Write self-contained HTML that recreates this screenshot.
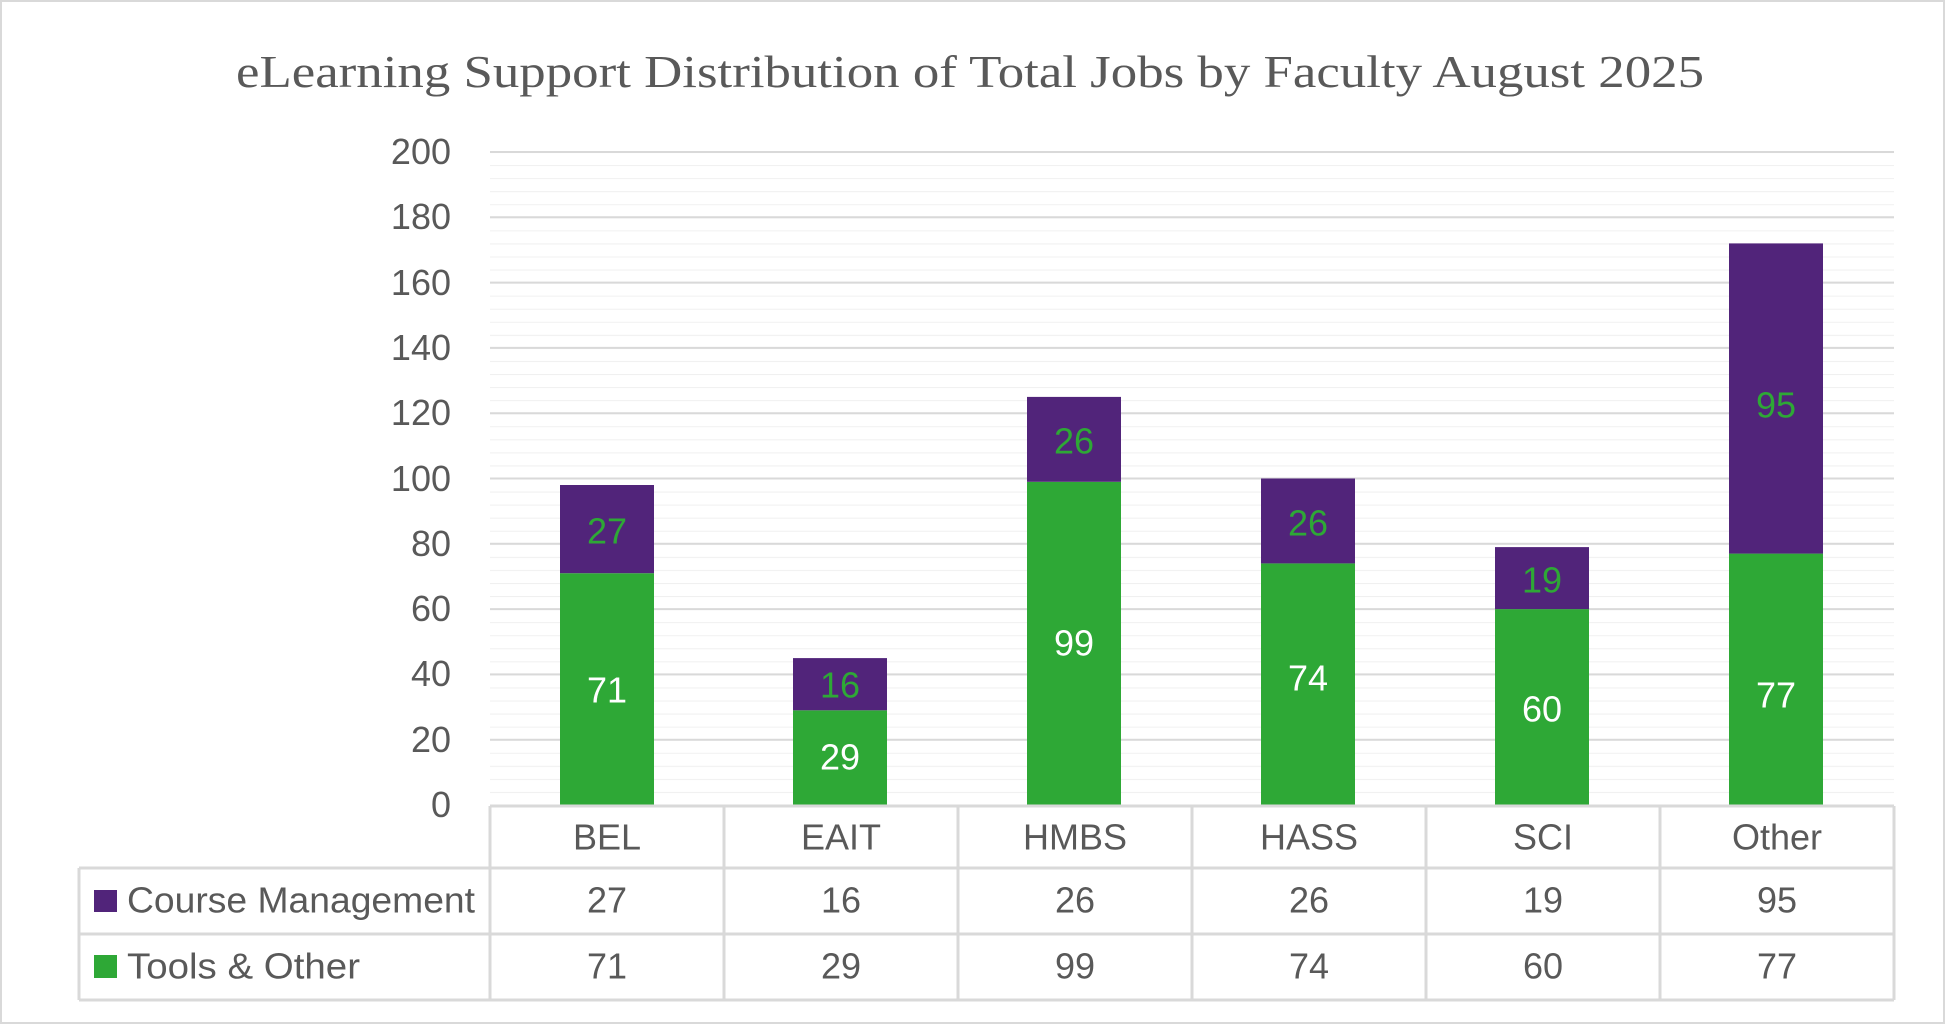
<!DOCTYPE html>
<html><head><meta charset="utf-8"><style>
html,body{margin:0;padding:0;background:#fff;}
svg{display:block;}
text{font-family:"Liberation Sans",sans-serif;}
</style></head><body>
<svg width="1946" height="1025" viewBox="0 0 1946 1025" xmlns="http://www.w3.org/2000/svg">
<defs>
<pattern id="minor" patternUnits="userSpaceOnUse" x="0" y="152" width="20" height="13.06">
<rect x="0" y="-1" width="20" height="2" fill="#f0f0f0"/>
</pattern>
</defs>
<rect x="1" y="1" width="1943" height="1022" fill="#fff" stroke="#d9d9d9" stroke-width="2"/>
<text x="236" y="87" style="font-family:'Liberation Serif',serif" font-size="46" fill="#595959" textLength="1468" lengthAdjust="spacingAndGlyphs">eLearning Support Distribution of Total Jobs by Faculty August 2025</text>
<!-- gridlines -->
<rect x="490" y="150" width="1404" height="656" fill="url(#minor)"/>
<g stroke="#d9d9d9" stroke-width="2">
<line x1="490" x2="1894" y1="152" y2="152"/>
<line x1="490" x2="1894" y1="217.3" y2="217.3"/>
<line x1="490" x2="1894" y1="282.6" y2="282.6"/>
<line x1="490" x2="1894" y1="347.9" y2="347.9"/>
<line x1="490" x2="1894" y1="413.2" y2="413.2"/>
<line x1="490" x2="1894" y1="478.5" y2="478.5"/>
<line x1="490" x2="1894" y1="543.8" y2="543.8"/>
<line x1="490" x2="1894" y1="609.1" y2="609.1"/>
<line x1="490" x2="1894" y1="674.4" y2="674.4"/>
<line x1="490" x2="1894" y1="739.7" y2="739.7"/>
</g>
<g font-size="36" fill="#595959" text-anchor="end">
<text x="451" y="164">200</text>
<text x="451" y="229">180</text>
<text x="451" y="295">160</text>
<text x="451" y="360">140</text>
<text x="451" y="425">120</text>
<text x="451" y="491">100</text>
<text x="451" y="556">80</text>
<text x="451" y="621">60</text>
<text x="451" y="686">40</text>
<text x="451" y="752">20</text>
<text x="451" y="817">0</text>
</g>
<!-- bars -->
<g fill="#2ea836">
<rect x="560" y="573.2" width="94" height="231.8"/>
<rect x="793" y="710.3" width="94" height="94.7"/>
<rect x="1027" y="481.8" width="94" height="323.2"/>
<rect x="1261" y="563.4" width="94" height="241.6"/>
<rect x="1495" y="609.1" width="94" height="195.9"/>
<rect x="1729" y="553.6" width="94" height="251.4"/>
</g>
<g fill="#51247a">
<rect x="560" y="485.0" width="94" height="88.2"/>
<rect x="793" y="658.1" width="94" height="52.2"/>
<rect x="1027" y="396.9" width="94" height="84.9"/>
<rect x="1261" y="478.5" width="94" height="84.9"/>
<rect x="1495" y="547.1" width="94" height="62.0"/>
<rect x="1729" y="243.4" width="94" height="310.2"/>
</g>
<g font-size="36" text-anchor="middle" dominant-baseline="central" fill="#fff">
<text x="607" y="690">71</text>
<text x="840" y="757">29</text>
<text x="1074" y="643">99</text>
<text x="1308" y="678">74</text>
<text x="1542" y="709">60</text>
<text x="1776" y="695">77</text>
</g>
<g font-size="36" text-anchor="middle" dominant-baseline="central" fill="#2ea836">
<text x="607" y="531">27</text>
<text x="840" y="685">16</text>
<text x="1074" y="441">26</text>
<text x="1308" y="523">26</text>
<text x="1542" y="580">19</text>
<text x="1776" y="405">95</text>
</g>
<!-- table -->
<g stroke="#d9d9d9" stroke-width="3" fill="none">
<line x1="490" x2="1894" y1="806" y2="806"/>
<line x1="79" x2="1894" y1="868" y2="868"/>
<line x1="79" x2="1894" y1="934" y2="934"/>
<line x1="79" x2="1894" y1="1000" y2="1000"/>
<line x1="79" x2="79" y1="868" y2="1000"/>
<line x1="490" x2="490" y1="806" y2="1000"/>
<line x1="724" x2="724" y1="806" y2="1000"/>
<line x1="958" x2="958" y1="806" y2="1000"/>
<line x1="1192" x2="1192" y1="806" y2="1000"/>
<line x1="1426" x2="1426" y1="806" y2="1000"/>
<line x1="1660" x2="1660" y1="806" y2="1000"/>
<line x1="1894" x2="1894" y1="806" y2="1000"/>
</g>
<g font-size="36" fill="#595959" text-anchor="middle" dominant-baseline="central">
<text x="607" y="837">BEL</text>
<text x="841" y="837">EAIT</text>
<text x="1075" y="837">HMBS</text>
<text x="1309" y="837">HASS</text>
<text x="1543" y="837">SCI</text>
<text x="1777" y="837">Other</text>
<text x="607" y="900">27</text>
<text x="841" y="900">16</text>
<text x="1075" y="900">26</text>
<text x="1309" y="900">26</text>
<text x="1543" y="900">19</text>
<text x="1777" y="900">95</text>
<text x="607" y="966">71</text>
<text x="841" y="966">29</text>
<text x="1075" y="966">99</text>
<text x="1309" y="966">74</text>
<text x="1543" y="966">60</text>
<text x="1777" y="966">77</text>
</g>
<rect x="94" y="890" width="23" height="22" fill="#51247a"/>
<rect x="94" y="955" width="23" height="23" fill="#2ea836"/>
<g font-size="36" fill="#595959" dominant-baseline="central">
<text x="127" y="900" textLength="348" lengthAdjust="spacingAndGlyphs">Course Management</text>
<text x="127" y="966" textLength="233" lengthAdjust="spacingAndGlyphs">Tools &amp; Other</text>
</g>
</svg>
</body></html>
